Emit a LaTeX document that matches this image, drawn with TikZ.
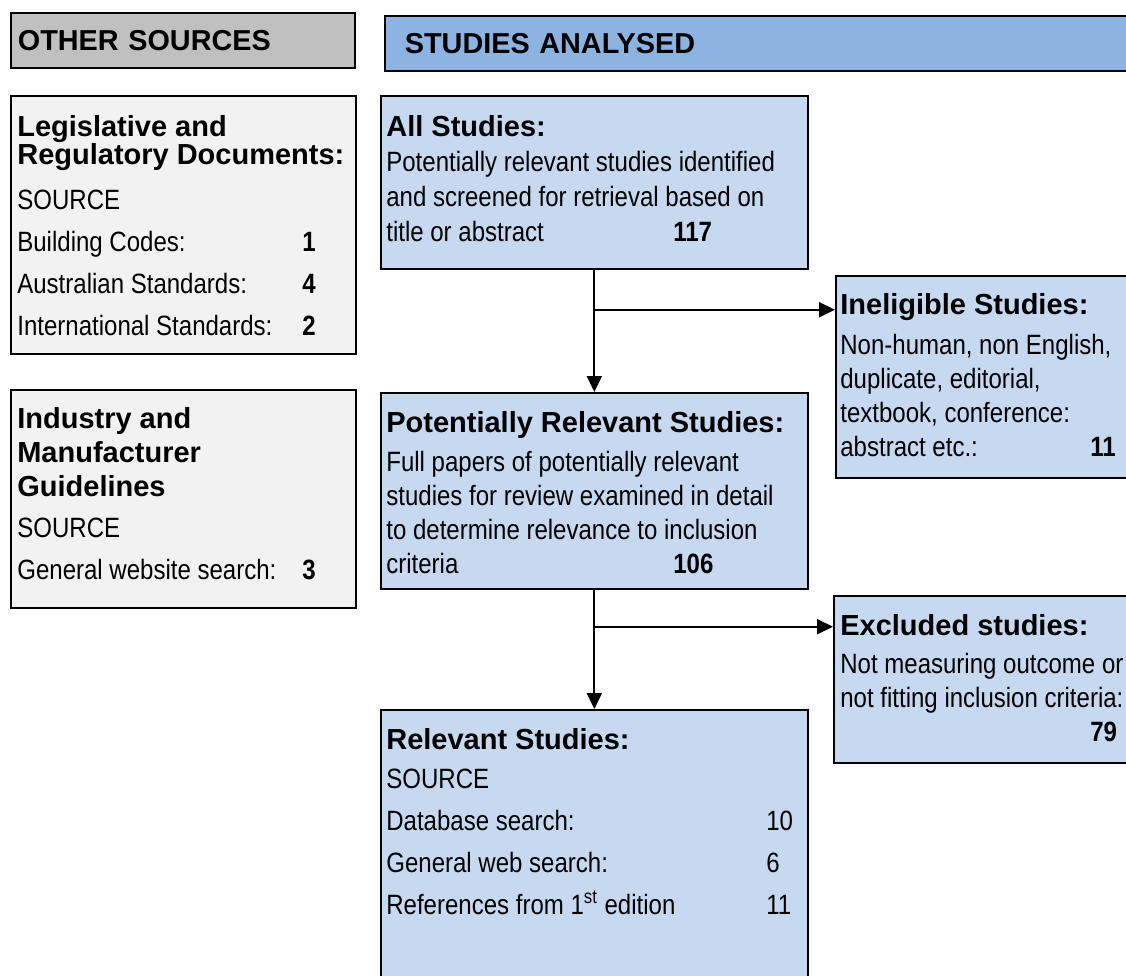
\documentclass[tikz,border=0pt]{standalone}
\usepackage{fontspec}
\setmainfont{Liberation Sans}
\newfontfamily\bodyfam{Liberation Sans}[FakeStretch=0.86]
\usetikzlibrary{positioning,arrows.meta,calc}

\definecolor{hdrgray}{HTML}{C0C0C0}
\definecolor{hdrblue}{HTML}{8DB3E2}
\definecolor{boxblue}{HTML}{C6D9F1}
\definecolor{boxgray}{HTML}{F2F2F2}

\newcommand{\bodyfont}{\bodyfam\fontsize{15.9}{19.35}\selectfont}
\newcommand{\headfont}{\rmfamily\fontsize{16.5}{19.35}\selectfont\bfseries}
\newcommand{\entry}[3]{\makebox[#1][l]{#2}#3}

\begin{document}
\begin{tikzpicture}[
  x=0.02cm, y=-0.02cm,
  >={Triangle[length=0.32cm,width=0.3cm]},
  hdr/.style={draw=black, line width=1pt, anchor=north west, minimum height=1.1cm, align=left, font=\fontsize{16.4}{19}\selectfont\bfseries},
  panel/.style={draw=black, line width=1pt, anchor=north west, inner sep=0pt},
  txt/.style={anchor=north west, inner sep=0pt, align=left, font=\bodyfont},
  arr/.style={->, line width=1pt}
]
  \useasboundingbox (0,0) rectangle (1126,975);
  \clip (0,0) rectangle (1126,975);

  % Headers
  \node[hdr, fill=hdrgray, text width=6.6cm, inner xsep=0.14cm] (other) at (10,12) {OTHER SOURCES};
  \node[hdr, fill=hdrblue, text width=14.32cm, inner xsep=0.4cm] (analysed) at (384,15) {STUDIES ANALYSED};

  % Other sources
  \node[panel, fill=boxgray, minimum width=6.9cm, minimum height=5.16cm] (legis) at (10,95) {};
  \node[panel, fill=boxgray, minimum width=6.9cm, minimum height=4.36cm] (indus) at (10,389) {};

  \node[txt, below right=0.4cm and 0.14cm of legis.north west] (legistxt) {%
    {\headfont Legislative and}\\[-0.12cm]
    {\headfont Regulatory Documents:}\\[0.22cm]
    SOURCE\\[0.16cm]
    \entry{5.7cm}{Building Codes:}{\textbf{1}}\\[0.16cm]
    \entry{5.7cm}{Australian Standards:}{\textbf{4}}\\[0.16cm]
    \entry{5.7cm}{International Standards:}{\textbf{2}}};

  \node[txt, below right=0.36cm and 0.14cm of indus.north west] (industxt) {%
    {\headfont Industry and}\\
    {\headfont Manufacturer}\\
    {\headfont Guidelines}\\[0.14cm]
    SOURCE\\[0.16cm]
    \entry{5.7cm}{General website search:}{\textbf{3}}};

  % Studies analysed
  \node[panel, fill=boxblue, minimum width=8.54cm, minimum height=3.46cm] (all) at (380,95) {};
  \node[panel, fill=boxblue, minimum width=6.1cm, minimum height=4.04cm] (inel) at (835,275) {};
  \node[panel, fill=boxblue, minimum width=8.54cm, minimum height=3.92cm] (pot) at (380,392) {};
  \node[panel, fill=boxblue, minimum width=6.1cm, minimum height=3.34cm] (excl) at (833,595) {};
  \node[panel, fill=boxblue, minimum width=8.54cm, minimum height=6.0cm] (rel) at (380,709) {};

  \node[txt, below right=0.4cm and 0.12cm of all.north west] (alltxt) {%
    {\headfont All Studies:}\\[0.02cm]
    Potentially relevant studies identified\\[0.02cm]
    and screened for retrieval based on\\[0.02cm]
    \entry{5.74cm}{title or abstract}{\textbf{117}}};

  \node[txt, below right=0.36cm and 0.1cm of inel.north west] (ineltxt) {%
    {\headfont Ineligible Studies:}\\[0.12cm]
    Non-human, non English,\\
    duplicate, editorial,\\
    textbook, conference:\\
    \entry{5.0cm}{abstract etc.:}{\textbf{11}}};

  \node[txt, below right=0.38cm and 0.12cm of pot.north west] (pottxt) {%
    {\headfont Potentially Relevant Studies:}\\[0.1cm]
    Full papers of potentially relevant\\
    studies for review examined in detail\\
    to determine relevance to inclusion\\
    \entry{5.74cm}{criteria}{\textbf{106}}};

  \node[txt, below right=0.38cm and 0.14cm of excl.north west] (excltxt) {%
    {\headfont Excluded studies:}\\[0.08cm]
    Not measuring outcome or\\
    not fitting inclusion criteria:\\
    \entry{5.0cm}{}{\textbf{79}}};

  \node[txt, below right=0.38cm and 0.12cm of rel.north west] (reltxt) {%
    {\headfont Relevant Studies:}\\[0.1cm]
    SOURCE\\[0.16cm]
    \entry{7.6cm}{Database search:}{10}\\[0.16cm]
    \entry{7.6cm}{General web search:}{6}\\[0.16cm]
    \entry{7.6cm}{References from 1\textsuperscript{st} edition}{11}};

  % Flow
  \coordinate (br1) at ($(all.south)+(0,40)$);
  \coordinate (br2) at ($(pot.south)+(0,37)$);
  \draw[arr] (all.south) -- (pot.north);
  \draw[arr] (br1) -- (br1 -| inel.west);
  \draw[arr] (pot.south) -- (rel.north);
  \draw[arr] (br2) -- (br2 -| excl.west);
\end{tikzpicture}
\end{document}
